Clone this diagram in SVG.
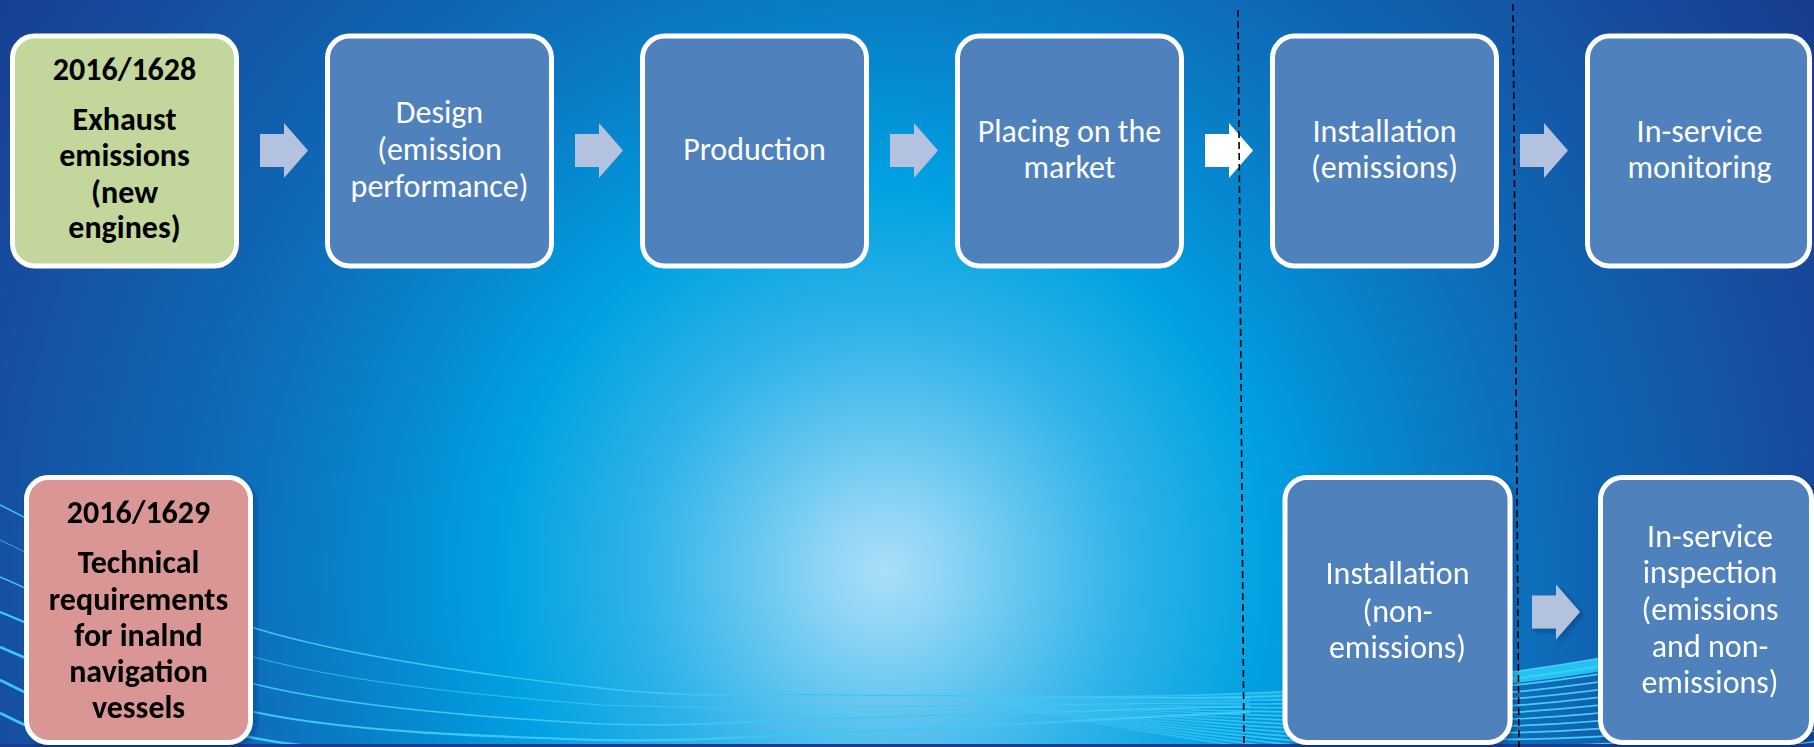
<svg xmlns="http://www.w3.org/2000/svg" width="1814" height="747" viewBox="0 0 1814 747">
<defs>
<radialGradient id="bg" gradientUnits="userSpaceOnUse" cx="885" cy="570" r="1100">
<stop offset="0" stop-color="#a9def8"/>
<stop offset="0.055" stop-color="#8fd5f5"/>
<stop offset="0.136" stop-color="#5ec4ef"/>
<stop offset="0.227" stop-color="#2db2e8"/>
<stop offset="0.345" stop-color="#02a2e2"/>
<stop offset="0.427" stop-color="#048fd5"/>
<stop offset="0.518" stop-color="#0a7bc5"/>
<stop offset="0.636" stop-color="#0f66b4"/>
<stop offset="0.764" stop-color="#1456a6"/>
<stop offset="0.864" stop-color="#18489c"/>
<stop offset="1" stop-color="#173b8b"/>
</radialGradient>
<linearGradient id="fanFade" gradientUnits="userSpaceOnUse" x1="960" y1="0" x2="1350" y2="0">
<stop offset="0" stop-color="#45cdf7" stop-opacity="0"/>
<stop offset="1" stop-color="#45cdf7" stop-opacity="1"/>
</linearGradient>
<linearGradient id="bandFade" gradientUnits="userSpaceOnUse" x1="1100" y1="0" x2="1500" y2="0">
<stop offset="0" stop-color="#22c3f3" stop-opacity="0"/>
<stop offset="1" stop-color="#22c3f3" stop-opacity="1"/>
</linearGradient>
<filter id="shadow" x="-10%" y="-10%" width="130%" height="130%">
<feDropShadow dx="3" dy="3" stdDeviation="2.5" flood-color="#0a2050" flood-opacity="0.35"/>
</filter>
<path id="arrow" d="M0,-16.5 H24 V-27.5 L48,0 L24,27.5 V16.5 H0 Z"/>
</defs>
<style>
.box rect { stroke: #ffffff; stroke-width: 5; }
.blue { fill: #4f81bd; }
.green { fill: #c3d69b; }
.pink { fill: #d99694; }
.t { font-family: Carlito, "Liberation Sans", Arial, sans-serif; font-size: 32px; fill: #ffffff; text-anchor: middle; }
.k { font-family: Carlito, "Liberation Sans", Arial, sans-serif; font-size: 32px; font-weight: bold; fill: #000000; text-anchor: middle; }
.arr { fill: #b3c2de; }
.wl { fill: none; stroke: #3fc7f4; }
.fan { fill: none; stroke: url(#fanFade); stroke-width: 1.7; }
.sep { stroke: #000000; stroke-width: 1.6; stroke-dasharray: 7 4; fill: none; }
</style>

<g id="background">
<rect x="0" y="0" width="1814" height="747" fill="url(#bg)"/>
<g id="waves-left">
<path class="wl" stroke-width="1.4" d="M0,505 C84.7,546 154,597.5 254,628 C354,658.5 500.7,676.8 600,688 C699.3,699.2 741.7,693.3 850,695 C958,696.7 1117,697 1250,698"/>
<path class="wl" stroke-width="1" opacity="0.8" d="M0,540 C84.7,579 154,629.5 254,657 C354,684.5 500.7,696.7 600,705 C699,708 742,707.5 850,707 C958,706.5 1117,703.7 1250,702"/>
<path class="wl" stroke-width="1.6" d="M0,577 C84.7,612.7 154,659.5 254,684 C354,708.5 500.7,718.3 600,724 C699,727 742,721 850,718 C958,715 1117,710 1250,706"/>
<path class="wl" stroke-width="2.2" d="M0,612 C84.7,645.3 154,690.7 254,712 C354,733.3 500.7,736.7 600,740 C699,742 742,736 850,732 C958,728 1117,718 1250,712"/>
<path class="wl" stroke-width="2.6" d="M0,647 C100,690 200,735 300,745 C400,755 600,752 900,754"/>
<path class="wl" stroke-width="2.6" d="M0,680 C60,710 120,740 180,755"/>
<path class="wl" stroke-width="2.6" d="M0,713 C30,728 60,742 90,752"/>
</g>
<g id="waves-right">
<path d="M950,697 C1238,697 1526,697 1814,606.7 L1814,624 C1526,708.5 1238,702.8 950,697 Z" fill="url(#bandFade)"/>
<path class="fan" d="M950,697 C1238,697 1526,697 1814,606.7"/>
<path class="fan" d="M950,697 C1238,700.5 1526,703.9 1814,617.1"/>
<path class="fan" d="M950,697 C1238,703.9 1526,710.8 1814,627.4"/>
<path class="fan" d="M950,697 C1238,707.4 1526,717.7 1814,637.8"/>
<path class="fan" d="M950,697 C1238,710.8 1526,724.6 1814,648.2"/>
<path class="fan" d="M950,697 C1238,714.3 1526,731.6 1814,658.5"/>
<path class="fan" d="M950,697 C1238,717.7 1526,738.5 1814,668.9"/>
<path class="fan" d="M950,697 C1238,721.2 1526,745.4 1814,679.3"/>
<path class="fan" d="M950,697 C1238,724.6 1526,752.3 1814,689.6"/>
<path class="fan" d="M950,697 C1238,728.1 1526,759.2 1814,700"/>
<path class="fan" d="M950,697 C1238,731.6 1526,766.1 1814,710.4"/>
<path class="fan" d="M950,697 C1238,735 1526,773 1814,720.7"/>
<path class="fan" d="M950,697 C1238,738.5 1526,779.9 1814,731.1"/>
<path class="fan" d="M950,697 C1238,741.9 1526,786.9 1814,741.5"/>
<path class="fan" d="M950,697 C1238,745.4 1526,793.8 1814,751.8"/>
<path class="fan" d="M950,697 C1238,748.8 1526,800.7 1814,762.2"/>
</g>
<rect x="0" y="744" width="1814" height="3" fill="#1c3c8c"/>
</g>

<g id="connectors">
<use href="#arrow" class="arr" x="260" y="150.5"/>
<use href="#arrow" class="arr" x="575" y="150.5"/>
<use href="#arrow" class="arr" x="890" y="150.5"/>
<use href="#arrow" fill="#ffffff" x="1205" y="150.5"/>
<use href="#arrow" class="arr" x="1520" y="150.5"/>
<use href="#arrow" class="arr" x="1532" y="612" filter="url(#shadow)"/>
</g>

<g id="node-2016-1628" class="box">
<rect class="green" x="12.5" y="36" width="224" height="230" rx="22"/>
<text class="k"><tspan x="124.5" y="80">2016/1628</tspan><tspan x="124.5" y="130">Exhaust</tspan><tspan x="124.5" y="166">emissions</tspan><tspan x="124.5" y="203">(new</tspan><tspan x="124.5" y="238">engines)</tspan></text>
</g>
<g id="node-design" class="box">
<rect class="blue" x="327.5" y="36" width="224" height="230" rx="22"/>
<text class="t"><tspan x="439.5" y="123">Design</tspan><tspan x="439.5" y="160">(emission</tspan><tspan x="439.5" y="197">performance)</tspan></text>
</g>
<g id="node-production" class="box">
<rect class="blue" x="642.5" y="36" width="224" height="230" rx="22"/>
<text class="t"><tspan x="754.5" y="160">Production</tspan></text>
</g>
<g id="node-placing" class="box">
<rect class="blue" x="957.5" y="36" width="224" height="230" rx="22"/>
<text class="t"><tspan x="1069.5" y="142">Placing on the</tspan><tspan x="1069.5" y="178">market</tspan></text>
</g>
<g id="node-installation-emissions" class="box">
<rect class="blue" x="1272.5" y="36" width="224" height="230" rx="22"/>
<text class="t"><tspan x="1384.5" y="142">Installation</tspan><tspan x="1384.5" y="178">(emissions)</tspan></text>
</g>
<g id="node-in-service-monitoring" class="box">
<rect class="blue" x="1587.5" y="36" width="222" height="230" rx="22"/>
<text class="t"><tspan x="1699.5" y="142">In-service</tspan><tspan x="1699.5" y="178">monitoring</tspan></text>
</g>

<g id="node-2016-1629" class="box" filter="url(#shadow)">
<rect class="pink" x="26.5" y="477.5" width="224" height="265" rx="22"/>
<text class="k"><tspan x="138.5" y="523">2016/1629</tspan><tspan x="138.5" y="573">Technical</tspan><tspan x="138.5" y="610">requirements</tspan><tspan x="138.5" y="646">for inalnd</tspan><tspan x="138.5" y="682">navigation</tspan><tspan x="138.5" y="718">vessels</tspan></text>
</g>
<g id="node-installation-non-emissions" class="box" filter="url(#shadow)">
<rect class="blue" x="1285" y="477.5" width="225" height="265" rx="22"/>
<text class="t"><tspan x="1397.5" y="584">Installation</tspan><tspan x="1397.5" y="622">(non-</tspan><tspan x="1397.5" y="658">emissions)</tspan></text>
</g>
<g id="node-in-service-inspection" class="box" filter="url(#shadow)">
<rect class="blue" x="1600.5" y="477.5" width="211" height="265" rx="22"/>
<text class="t"><tspan x="1710" y="547">In-service</tspan><tspan x="1710" y="583">inspection</tspan><tspan x="1710" y="620">(emissions</tspan><tspan x="1710" y="657">and non-</tspan><tspan x="1710" y="693">emissions)</tspan></text>
</g>

<g id="separators">
<line class="sep" x1="1238" y1="10" x2="1244" y2="747"/>
<line class="sep" x1="1513" y1="4" x2="1519" y2="747"/>
</g>
</svg>
